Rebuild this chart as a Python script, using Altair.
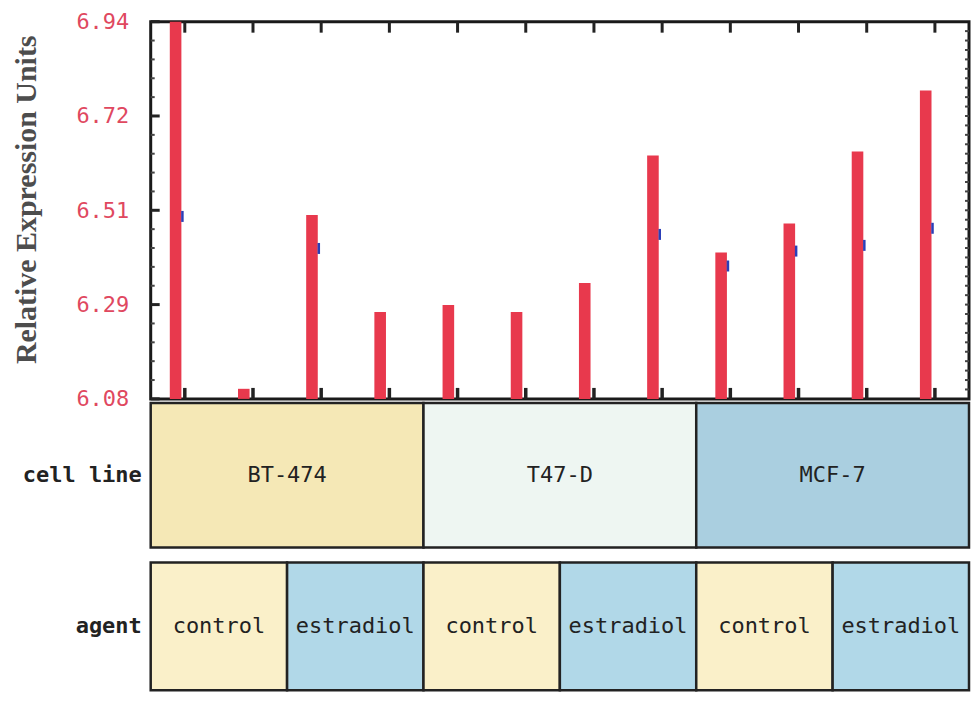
import altair as alt
import pandas as pd

# ---- data ----
samples = list(range(12))
red_values = [6.94, 6.103, 6.499, 6.278, 6.294, 6.278, 6.344, 6.635, 6.414, 6.48, 6.644, 6.783]
blue_values = [6.496, None, 6.423, None, None, None, None, 6.455, 6.383, 6.417, 6.43, 6.469]
cell_lines = ["BT-474", "T47-D", "MCF-7"]
agents = ["control", "estradiol"]
row_names = ["cell line", "agent"]
y_ticks = [6.08, 6.295, 6.51, 6.725, 6.94]
y_tick_labels = ["6.08", "6.29", "6.51", "6.72", "6.94"]
y_min, y_max = 6.08, 6.94

# ---- styling ----
W = 820
H1 = 378
H2 = 145
H3 = 128
MONO = "DejaVu Sans Mono"
RED = "#e8394d"
BLUE = "#2b3fb8"
band_keys = ["BT-474", "T47-D", "MCF-7", "control", "estradiol"]
band_colors = ["#f5e8b6", "#eef6f2", "#aacfe0", "#faf0c9", "#b1d8e8"]

xscale = alt.Scale(domain=[0, 12], nice=False, zero=False)
yscale = alt.Scale(domain=[y_min, y_max], nice=False, zero=False)

# ---- main bar panel ----
bars_df = pd.DataFrame({
    "x0": [i + 0.28 for i in samples],
    "x1": [i + 0.45 for i in samples],
    "v": red_values,
    "base": [y_min] * len(samples),
})
blue_df = pd.DataFrame({
    "xb": [i + 0.465 for i, b in zip(samples, blue_values) if b is not None],
    "b": [b for b in blue_values if b is not None],
})
tick_df = pd.DataFrame({"c": [i + 0.5 for i in samples]})
major_df = pd.DataFrame({"t": y_ticks})
minor_left = pd.DataFrame({"t": [y_min + k * (y_max - y_min) / 20 for k in range(21) if k % 5]})
minor_right = pd.DataFrame({"t": [y_min + k * (y_max - y_min) / 40 for k in range(1, 40)]})

label_expr = "'" + y_tick_labels[-1] + "'"
for v, l in reversed(list(zip(y_ticks[:-1], y_tick_labels[:-1]))):
    label_expr = f"datum.value < {v + 0.01} ? '{l}' : ({label_expr})"

yaxis = alt.Axis(
    values=y_ticks, labelExpr=label_expr, ticks=False, domain=False, grid=False,
    labelFont=MONO, labelFontSize=22, labelColor="#e0485f", labelPadding=22,
    title="Relative Expression Units", titleFont="Liberation Serif", titleFontSize=30,
    titleFontWeight="bold", titleColor="#4d4d4d", titlePadding=34, titleY=178,
)

bars = alt.Chart(bars_df).mark_bar(color=RED).encode(
    x=alt.X("x0:Q", scale=xscale, axis=None),
    x2="x1:Q",
    y=alt.Y("v:Q", scale=yscale, axis=yaxis),
    y2="base:Q",
)
blue = alt.Chart(blue_df).mark_tick(orient="vertical", size=11, thickness=2.5, color=BLUE, opacity=1).encode(
    x=alt.X("xb:Q", scale=xscale), y=alt.Y("b:Q", scale=yscale)
)
top_ticks = alt.Chart(tick_df).mark_rule(color="#222", strokeWidth=3).encode(
    x=alt.X("c:Q", scale=xscale), y=alt.value(0), y2=alt.value(11)
)
bottom_ticks = alt.Chart(tick_df).mark_rule(color="#222", strokeWidth=3.5).encode(
    x=alt.X("c:Q", scale=xscale), y=alt.value(H1), y2=alt.value(H1 - 11)
)
left_major = alt.Chart(major_df).mark_rule(color="#222", strokeWidth=3).encode(
    y=alt.Y("t:Q", scale=yscale), x=alt.value(0), x2=alt.value(9)
)
left_minor = alt.Chart(minor_left).mark_rule(color="#444", strokeWidth=2).encode(
    y=alt.Y("t:Q", scale=yscale), x=alt.value(0), x2=alt.value(4)
)
right_minor = alt.Chart(minor_right).mark_rule(color="#444", strokeWidth=2).encode(
    y=alt.Y("t:Q", scale=yscale), x=alt.value(W - 4), x2=alt.value(W)
)

panel1 = alt.layer(
    bars, blue, top_ticks, bottom_ticks, left_major, left_minor, right_minor
).properties(
    width=W, height=H1,
    view=alt.ViewBackground(stroke="#1a1a1a", strokeWidth=3),
)


# ---- annotation bands ----
def band_panel(row_name, names, span, height):
    n_groups = 12 // span
    recs = []
    for g in range(n_groups):
        name = names[g % len(names)]
        recs.append({"row": row_name, "start": g * span, "end": (g + 1) * span,
                     "mid": g * span + span / 2, "label": name, "key": name})
    df = pd.DataFrame(recs)
    yb = alt.Y("row:N", scale=alt.Scale(paddingInner=0, paddingOuter=0), axis=None)
    rects = alt.Chart(df).mark_rect(stroke="#222", strokeWidth=2.5).encode(
        x=alt.X("start:Q", scale=xscale, axis=None),
        x2="end:Q",
        y=yb,
        color=alt.Color("key:N", scale=alt.Scale(domain=band_keys, range=band_colors), legend=None),
    )
    texts = alt.Chart(df).mark_text(font=MONO, fontSize=22, color="#222").encode(
        x=alt.X("mid:Q", scale=xscale), y=yb, text="label:N"
    )
    head = alt.Chart(pd.DataFrame({"r": [row_name]})).mark_text(
        font=MONO, fontSize=22, fontWeight="bold", color="#222", align="right", baseline="middle"
    ).encode(x=alt.value(-9), y=alt.value(height / 2), text="r:N")
    return alt.layer(rects, texts, head).properties(
        width=W, height=height, view=alt.ViewBackground(stroke=None)
    )


panel2 = band_panel(row_names[0], cell_lines, 4, H2)
panel3 = band_panel(row_names[1], agents, 2, H3)

lower = alt.vconcat(panel2, panel3, spacing=15, bounds="flush")
chart = alt.vconcat(panel1, lower, spacing=4, bounds="flush").properties(
    padding={"top": 0, "left": 2, "right": 0, "bottom": 0}, background="white"
).configure_view(stroke=None)

chart.save("out.html", embed_options={"renderer": "svg", "actions": False})
